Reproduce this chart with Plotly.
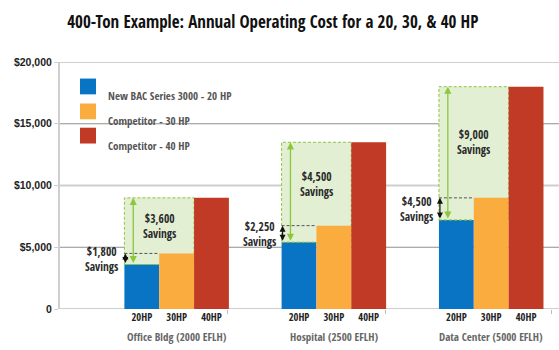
import plotly.graph_objects as go

# ---- data ----
groups = ["Office Bldg (2000 EFLH)", "Hospital (2500 EFLH)", "Data Center (5000 EFLH)"]
hp_labels = ["20HP", "30HP", "40HP"]
series_names = ["New BAC Series 3000 - 20 HP", "Competitor - 30 HP", "Competitor - 40 HP"]
cost_20hp = [3600, 5400, 7200]
cost_30hp = [4500, 6750, 9000]
cost_40hp = [9000, 13500, 18000]
small_savings = ["$1,800", "$2,250", "$4,500"]
big_savings = ["$3,600", "$4,500", "$9,000"]
y_ticks = [0, 5000, 10000, 15000, 20000]
y_tick_text = ["0", "$5,000", "$10,000", "$15,000", "$20,000"]

# ---- layout constants ----
group_center = [3.549, 8.332, 13.12]   # x of middle bar in each group
bar_w = 1.06
boundary_ticks = [5.1, 9.91, 14.96]
colors = ["#0a74c4", "#fbac3f", "#c13a26"]
shade = "#e2efd2"
green = "#8cc63f"
cond = "Open Sans Condensed, sans-serif"

fig = go.Figure()
series = [cost_20hp, cost_30hp, cost_40hp]
for k, vals in enumerate(series):
    fig.add_trace(go.Bar(
        x=[c + (k - 1) * bar_w for c in group_center],
        y=vals, width=bar_w, name=series_names[k],
        marker=dict(color=colors[k], line=dict(width=0)),
        showlegend=False, hoverinfo="skip"))

shapes = []
annots = []
# savings shading (below gridlines)
for g, c in enumerate(group_center):
    left = c - 1.5 * bar_w
    right = c + 0.5 * bar_w
    shapes.append(dict(type="rect", xref="x", yref="y", layer="below",
                       x0=left, x1=right, y0=cost_20hp[g], y1=cost_40hp[g],
                       fillcolor=shade, line=dict(color=green, width=1, dash="3px,2px")))
# gridlines
for v in y_ticks:
    major = v % 10000 == 0
    shapes.append(dict(type="line", xref="paper", yref="y", layer="below",
                       x0=0, x1=1.012, y0=v, y1=v,
                       line=dict(color="#cfcfcf" if major else "#8e8e8e",
                                 width=2 if major else 1)))
for g, c in enumerate(group_center):
    left = c - 1.5 * bar_w
    # dark dashed at 30HP level over blue bar
    shapes.append(dict(type="line", xref="x", yref="y", layer="above",
                       x0=left, x1=c - 0.5 * bar_w, y0=cost_30hp[g], y1=cost_30hp[g],
                       line=dict(color="#555555", width=1, dash="3px,2px")))
    shapes.append(dict(type="line", xref="x", yref="y", layer="above",
                       x0=left, x1=c - 0.5 * bar_w, y0=cost_20hp[g], y1=cost_20hp[g],
                       line=dict(color=green, width=1, dash="3px,2px")))
    # green double arrow
    annots.append(dict(x=left + 0.27, y=cost_40hp[g], ax=left + 0.27, ay=cost_20hp[g],
                       xref="x", yref="y", axref="x", ayref="y", text="",
                       showarrow=True, arrowhead=2, startarrowhead=2, arrowside="end+start",
                       arrowsize=1.1, startarrowsize=1.1, arrowwidth=1.3, arrowcolor=green))
    # black double arrow
    annots.append(dict(x=left + 0.03, y=cost_30hp[g], ax=left + 0.03, ay=cost_20hp[g],
                       xref="x", yref="y", axref="x", ayref="y", text="",
                       showarrow=True, arrowhead=2, startarrowhead=2, arrowside="end+start",
                       arrowsize=1.0, startarrowsize=1.0, arrowwidth=1.2, arrowcolor="#111111"))
    # labels
    annots.append(dict(x=c - 0.5 * bar_w, y=(cost_30hp[g] + cost_40hp[g]) / 2,
                       xref="x", yref="y", showarrow=False,
                       text=big_savings[g] + "<br>Savings",
                       font=dict(family=cond, size=11.5, color="#2a2a2a", weight=700)))
    annots.append(dict(x=left - 0.12, y=(cost_20hp[g] + cost_30hp[g]) / 2,
                       xref="x", yref="y", showarrow=False, xanchor="right",
                       text=small_savings[g] + "<br>Savings", align="center",
                       font=dict(family=cond, size=11.5, color="#2a2a2a", weight=700)))
    # group label
    annots.append(dict(x=c, y=-0.112, xref="x", yref="paper", showarrow=False,
                       yanchor="middle", text=groups[g],
                       font=dict(family=cond, size=11, color="#666666")))

# manual legend
leg_y = [0.901, 0.800, 0.702]
for k in range(3):
    shapes.append(dict(type="rect", xref="paper", yref="paper",
                       x0=0.0406, x1=0.073, y0=leg_y[k] - 0.032, y1=leg_y[k] + 0.032,
                       fillcolor=colors[k], line=dict(width=0)))
    annots.append(dict(x=0.0933, y=leg_y[k], xref="paper", yref="paper",
                       xanchor="left", showarrow=False, text=series_names[k],
                       font=dict(family=cond, size=11, color="#555555")))

tick_x = [c + (k - 1) * bar_w for c in group_center for k in range(3)]
tick_t = [hp_labels[k] for c in group_center for k in range(3)]

fig.update_layout(
    width=559, height=350,
    margin=dict(l=60, r=6, t=62, b=41),
    paper_bgcolor="white", plot_bgcolor="white",
    title=dict(text="<b>400-Ton Example: Annual Operating Cost for a 20, 30, & 40 HP</b>",
               x=0.488, xanchor="center", y=0.937, yanchor="middle",
               font=dict(family=cond, size=17, color="#111111")),
    barmode="overlay",
    shapes=shapes, annotations=annots,
    xaxis=dict(range=[0, 15], tickvals=tick_x, ticktext=tick_t, ticks="",
               showgrid=False, zeroline=False, showline=False,
               tickfont=dict(family=cond, size=10.5, color="#222222", weight="bold"),
               minor=dict(tickvals=boundary_ticks, ticks="outside", ticklen=4,
                          tickcolor="#bbbbbb", showgrid=False)),
    yaxis=dict(range=[0, 20000], tickvals=y_ticks, ticktext=y_tick_text,
               showgrid=False, zeroline=False, showline=True, linecolor="#cfcfcf",
               linewidth=2, ticks="outside", ticklen=4, tickcolor="#cfcfcf",
               tickfont=dict(family="Liberation Sans, Arial, sans-serif", size=10.5,
                             color="#222222", weight="bold")),
)
fig.write_html("out.html")
